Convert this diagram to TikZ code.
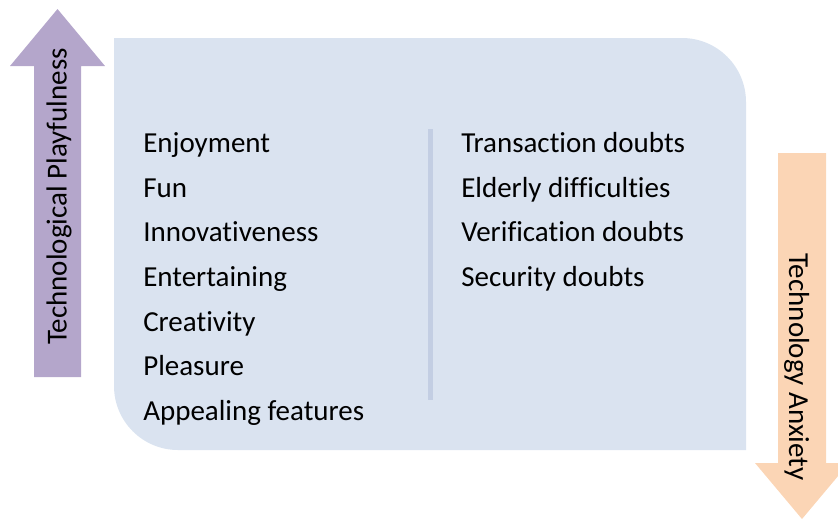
\documentclass[tikz,border=0pt]{standalone}
\usepackage{fontspec}
\setmainfont{Carlito}[Ligatures=NoCommon]
\usepackage{tikz}
\usetikzlibrary{positioning}
\usepackage{xcolor}
\definecolor{panelblue}{HTML}{DAE3F0}
\definecolor{rulerblue}{HTML}{C3CEE3}
\definecolor{playpurple}{HTML}{B4A6CB}
\definecolor{anxorange}{HTML}{FBD5B5}
\tikzset{
  panel/.style={fill=panelblue},
  divider/.style={draw=rulerblue, line width=3.75pt},
  uparrow/.style={fill=playpurple},
  downarrow/.style={fill=anxorange},
  item/.style={anchor=base west, inner sep=0pt, font=\fontsize{21.75}{26}\selectfont},
  axislab/.style={anchor=base, inner sep=0pt, font=\fontsize{21.75}{26}\selectfont}
}

\begin{document}
\begin{tikzpicture}[x=0.75pt,y=0.75pt]
\useasboundingbox (0,0) rectangle (838,-519);

% factor panel
\fill[panel] (114,-38) -- (682,-38) arc[start angle=90,end angle=0,radius=64]
  -- (746,-450) -- (178,-450) arc[start angle=270,end angle=180,radius=64] -- cycle;

% playfulness arrow (up)
\fill[uparrow] (34,-377) -- (34,-66) -- (10,-66) -- (57.5,-9) -- (105,-66)
  -- (81,-66) -- (81,-377) -- cycle;
\node[axislab,rotate=90] (playlab) at (66.7,-196.5) {Technological Playfulness};

% anxiety arrow (down)
\fill[downarrow] (778,-153) -- (778,-463) -- (755,-463) -- (802,-519) -- (849,-463)
  -- (826,-463) -- (826,-153) -- cycle;
\node[axislab,rotate=-90] (anxlab) at (789,-367) {Technology Anxiety};

% column separator
\coordinate (septop) at (430,-129);
\coordinate (sepbot) at (430,-400);
\draw[divider] (septop) -- (sepbot);

% playfulness items
\foreach \txt [count=\i] in {Enjoyment,Fun,Innovativeness,Entertaining,Creativity,Pleasure,Appealing features}{
  \node[item] (play\i) at (143,{-152.3-44.7*(\i-1)}) {\txt};
}

% anxiety items
\foreach \txt [count=\i] in {Transaction doubts,Elderly difficulties,Verification doubts,Security doubts}{
  \node[item] (anx\i) at (461,{-152.3-44.7*(\i-1)}) {\txt};
}
\end{tikzpicture}
\end{document}
